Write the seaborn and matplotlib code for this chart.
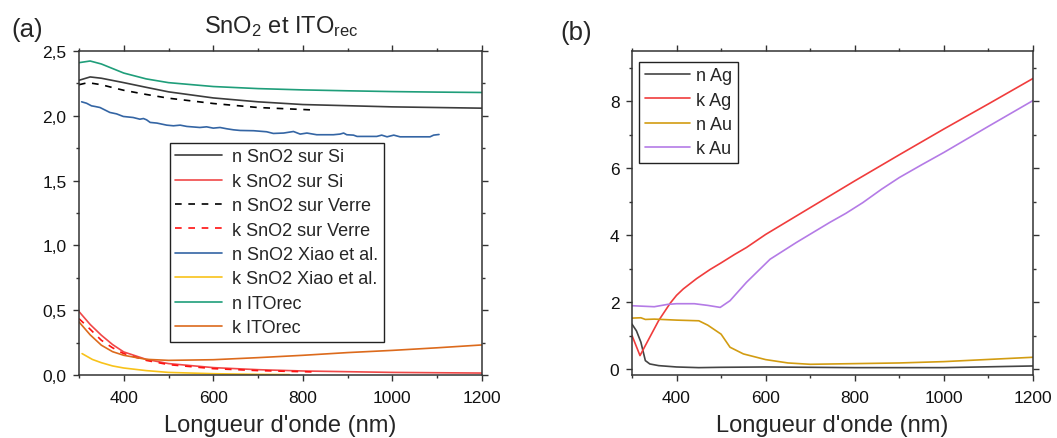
"""
Indices optiques n et k : (a) SnO2 et ITOrec, (b) Ag et Au.
Sortie : out.png
"""

import pandas as pd
import seaborn as sns
import matplotlib.pyplot as plt
from matplotlib.ticker import MultipleLocator

# --- (a) SnO2 et ITOrec -------------------------------------------------
wl_sn_si = [300, 325, 350, 400, 450, 500, 600, 700, 800, 1000, 1200]
n_sn_si = [2.274, 2.30, 2.29, 2.256, 2.22, 2.185, 2.138, 2.108, 2.087, 2.069, 2.059]
wl_k_sn_si = [300, 325, 350, 375, 400, 450, 500, 600, 700, 800, 1000, 1200]
k_sn_si = [0.49, 0.39, 0.307, 0.235, 0.178, 0.121, 0.088, 0.057, 0.041, 0.031, 0.02, 0.015]

wl_verre = [300, 320, 350, 375, 400, 450, 500, 600, 700, 830]
n_verre = [2.24, 2.256, 2.24, 2.218, 2.197, 2.165, 2.136, 2.095, 2.064, 2.044]
k_verre = [0.435, 0.37, 0.268, 0.21, 0.165, 0.113, 0.08, 0.049, 0.034, 0.023]

wl_xiao = [306, 317, 328, 336, 347, 369, 384, 399, 421, 436, 444, 451, 459, 474,
           496, 511, 526, 541, 570, 585, 600, 615, 630, 645, 660, 690, 719, 734,
           757, 779, 794, 809, 831, 868, 883, 891, 898, 913, 921, 943, 965, 976,
           988, 1003, 1017, 1084, 1092, 1104]
n_xiao = [2.108, 2.097, 2.077, 2.072, 2.064, 2.026, 2.015, 1.995, 1.987, 1.974,
          1.979, 1.969, 1.949, 1.944, 1.928, 1.923, 1.928, 1.918, 1.910, 1.915,
          1.905, 1.910, 1.900, 1.892, 1.887, 1.885, 1.877, 1.864, 1.867, 1.879,
          1.859, 1.867, 1.854, 1.854, 1.859, 1.867, 1.854, 1.851, 1.841, 1.841,
          1.841, 1.851, 1.838, 1.851, 1.838, 1.838, 1.851, 1.856]
wl_k_xiao = [307, 330, 350, 375, 400, 450, 500, 600, 700, 770]
k_xiao = [0.165, 0.12, 0.095, 0.07, 0.054, 0.034, 0.02, 0.01, 0.005, 0.003]

wl_ito = [300, 325, 350, 375, 400, 450, 500, 600, 700, 800, 900, 1000, 1100, 1200]
n_ito = [2.41, 2.423, 2.40, 2.365, 2.33, 2.285, 2.256, 2.226, 2.21, 2.20, 2.193, 2.187,
         2.183, 2.18]
k_ito = [0.41, 0.31, 0.23, 0.18, 0.152, 0.121, 0.113, 0.118, 0.134, 0.152, 0.173, 0.19,
         0.21, 0.232]

# --- (b) Ag et Au -------------------------------------------------------
wl_ag = [300, 310, 320, 330, 340, 360, 400, 450, 500, 600, 800, 1000, 1200]
n_ag = [1.34, 1.14, 0.8, 0.25, 0.15, 0.1, 0.06, 0.04, 0.05, 0.06, 0.04, 0.04, 0.09]
wl_k_ag = [300, 318, 340, 360, 386, 400, 415, 445, 475, 500, 530, 557, 600, 700, 800,
           900, 1000, 1100, 1200]
k_ag = [1.0, 0.40, 0.95, 1.45, 1.97, 2.2, 2.39, 2.7, 2.97, 3.17, 3.42, 3.63, 4.02, 4.82,
        5.62, 6.4, 7.17, 7.92, 8.68]

wl_au = [300, 320, 330, 350, 400, 450, 470, 500, 520, 550, 600, 650, 700, 800, 900, 1000, 1200]
n_au = [1.52, 1.53, 1.48, 1.49, 1.46, 1.44, 1.31, 1.04, 0.65, 0.45, 0.28, 0.18, 0.14,
        0.16, 0.18, 0.22, 0.35]
wl_k_au = [300, 350, 380, 400, 440, 470, 498, 520, 557, 610, 669, 744, 780, 818, 860,
           900, 950, 1000, 1100, 1200]
k_au = [1.89, 1.86, 1.93, 1.95, 1.95, 1.90, 1.84, 2.04, 2.59, 3.28, 3.78, 4.38, 4.65,
        4.97, 5.37, 5.72, 6.1, 6.47, 7.25, 8.02]

x_ticks = [400, 600, 800, 1000, 1200]
y_ticks_a = [0.0, 0.5, 1.0, 1.5, 2.0, 2.5]
y_labels_a = ["0,0", "0,5", "1,0", "1,5", "2,0", "2,5"]
y_ticks_b = [0, 2, 4, 6, 8]

sns.set_style("ticks")
plt.rcParams["font.family"] = ["Liberation Sans", "DejaVu Sans"]
plt.rcParams["mathtext.fontset"] = "custom"
plt.rcParams["mathtext.rm"] = "Liberation Sans"
plt.rcParams["mathtext.it"] = "Liberation Sans:italic"

SPINE = "#333333"
LW = 1.2


def style_axes(ax):
    for s in ax.spines.values():
        s.set_visible(True)
        s.set_color(SPINE)
        s.set_linewidth(1.1)
    ax.set_xlim(300, 1200)
    ax.set_xticks(x_ticks)
    ax.xaxis.set_minor_locator(MultipleLocator(100))
    ax.tick_params(which="both", direction="out", top=True, right=True,
                   color=SPINE, width=1.0, labelsize=12.5, labelcolor="#111111")
    ax.tick_params(which="major", length=4.5)
    ax.tick_params(which="minor", length=2.3)
    ax.tick_params(axis="x", pad=6.5)
    ax.tick_params(axis="y", pad=4.5)
    ax.set_xlabel("Longueur d'onde (nm)", fontsize=17, labelpad=6)
    ax.set_ylabel("")


def line(ax, x, y, color, label, ls="-"):
    df = pd.DataFrame({"x": x, "y": y})
    sns.lineplot(data=df, x="x", y="y", ax=ax, color=color, linewidth=LW,
                 linestyle=ls, label=label, estimator=None, sort=True)


fig = plt.figure(figsize=(10.57, 4.39), dpi=100)
ax1 = fig.add_axes([0.0747, 0.1435, 0.3813, 0.738])
ax2 = fig.add_axes([0.5979, 0.1435, 0.3794, 0.738])

dash = (0, (4, 4))
line(ax1, wl_sn_si, n_sn_si, "#3c3c3c", "n SnO2 sur Si")
line(ax1, wl_k_sn_si, k_sn_si, "#f04848", "k SnO2 sur Si")
line(ax1, wl_verre, n_verre, "#000000", "n SnO2 sur Verre", dash)
line(ax1, wl_verre, k_verre, "#ff1010", "k SnO2 sur Verre", dash)
line(ax1, wl_xiao, n_xiao, "#3465a4", "n SnO2 Xiao et al.")
line(ax1, wl_k_xiao, k_xiao, "#f8c21a", "k SnO2 Xiao et al.")
line(ax1, wl_ito, n_ito, "#1f9e7a", "n ITOrec")
line(ax1, wl_ito, k_ito, "#dc6a1c", "k ITOrec")

style_axes(ax1)
ax1.set_ylim(0, 2.5)
ax1.set_yticks(y_ticks_a)
ax1.set_yticklabels(y_labels_a)
ax1.yaxis.set_minor_locator(MultipleLocator(0.25))
leg1 = ax1.legend(loc="upper left", bbox_to_anchor=(0.226, 0.716), borderaxespad=0,
                  fontsize=13, frameon=True, fancybox=False, framealpha=1,
                  edgecolor="#222222", handlelength=2.6, handletextpad=0.55,
                  labelspacing=0.41, borderpad=0.3)
leg1.get_frame().set_linewidth(1.0)

line(ax2, wl_ag, n_ag, "#444444", "n Ag")
line(ax2, wl_k_ag, k_ag, "#f03c3c", "k Ag")
line(ax2, wl_au, n_au, "#d29c12", "n Au")
line(ax2, wl_k_au, k_au, "#b47be6", "k Au")

style_axes(ax2)
ax2.set_ylim(-0.18, 9.5)
ax2.set_yticks(y_ticks_b)
ax2.yaxis.set_minor_locator(MultipleLocator(1))
leg2 = ax2.legend(loc="upper left", bbox_to_anchor=(0.018, 0.966), borderaxespad=0,
                  fontsize=13, frameon=True, fancybox=False, framealpha=1,
                  edgecolor="#222222", handlelength=2.5, handletextpad=0.35,
                  labelspacing=0.4, borderpad=0.3)
leg2.get_frame().set_linewidth(1.0)

fig.text(0.266, 0.925, r"SnO$_2$ et ITO$_{\mathrm{rec}}$", fontsize=17,
         ha="center", va="baseline")
fig.text(0.011, 0.916, "(a)", fontsize=18.5, ha="left", va="baseline")
fig.text(0.530, 0.909, "(b)", fontsize=18.5, ha="left", va="baseline")

fig.savefig("out.png", dpi=100)
